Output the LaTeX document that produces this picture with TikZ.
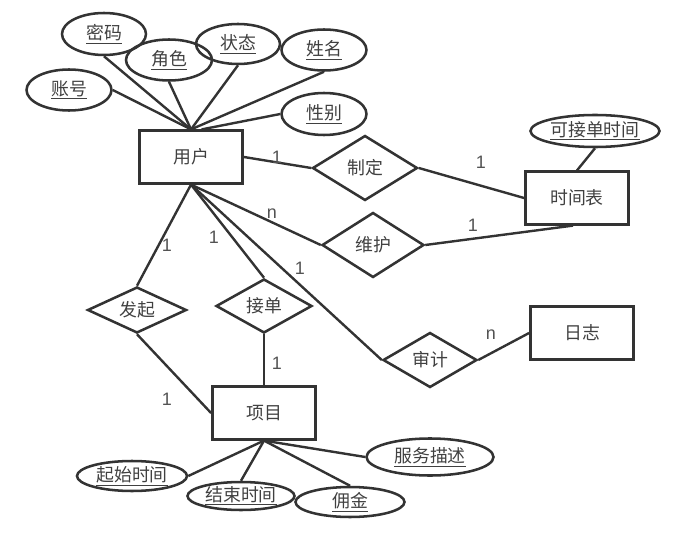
\documentclass[tikz,border=0pt]{standalone}
\usepackage{fontspec}
\setmainfont{Noto Sans CJK SC}
\newfontfamily\labelfont{Liberation Sans}
\usetikzlibrary{shapes.geometric}
\definecolor{ink}{HTML}{333333}
\definecolor{txt}{HTML}{404040}
\begin{document}
\begin{tikzpicture}[x=0.75pt,y=-0.75pt,
  every node/.style={font=\fontsize{13.4}{16}\selectfont, text=txt, inner sep=0pt},
  entity/.style={draw=ink, line width=1.9pt, rectangle, minimum width=77.5pt, minimum height=39.5pt},
  rel/.style={draw=ink, line width=1.9pt, diamond, aspect=1.6},
  attr/.style={draw=ink, line width=1.9pt, ellipse},
  conn/.style={draw=ink, line width=1.8pt},
  card/.style={font=\labelfont\fontsize{13.5}{15}\selectfont, text=txt!90}
]
\useasboundingbox (0,0) rectangle (700,560);
% entities
\node[entity] (u) at (191,157) {用户};
\node[entity] (t) at (577,198) {时间表};
\node[entity] (lg) at (582,333) {日志};
\node[entity] (p) at (264,413) {项目};
% relationships
\node[rel, minimum width=78.75pt, minimum height=48.75pt] (r1) at (365,168) {制定};
\node[rel, minimum width=76.5pt, minimum height=48.75pt] (r2) at (373,245) {维护};
\node[rel, minimum width=74.25pt, minimum height=34.5pt] (r3) at (137,310) {发起};
\node[rel, minimum width=72pt, minimum height=40.5pt] (r4) at (264,306) {接单};
\node[rel, minimum width=70.5pt, minimum height=41.25pt] (r5) at (430,360) {审计};
% attributes of user
\node[attr, minimum width=63pt, minimum height=31.5pt] (a1) at (104,34) {\underline{密码}};
\node[attr, minimum width=64.5pt, minimum height=30.75pt] (a2) at (169,60) {\underline{角色}};
\node[attr, minimum width=63pt, minimum height=30pt] (a3) at (238,44) {\underline{状态}};
\node[attr, minimum width=63.75pt, minimum height=30.75pt] (a4) at (324,50) {\underline{姓名}};
\node[attr, minimum width=63.75pt, minimum height=30.75pt] (a5) at (69,90) {\underline{账号}};
\node[attr, minimum width=63.75pt, minimum height=31.5pt] (a6) at (324,114) {\underline{性别}};
\node[attr, minimum width=96.75pt, minimum height=24pt] (a7) at (595,131) {\underline{可接单时间}};
% attributes of project
\node[attr, minimum width=82.5pt, minimum height=22.5pt] (b1) at (132,476) {\underline{起始时间}};
\node[attr, minimum width=80.25pt, minimum height=21pt] (b2) at (241,496) {\underline{结束时间}};
\node[attr, minimum width=81.75pt, minimum height=22.5pt] (b3) at (350,502) {\underline{佣金}};
\node[attr, minimum width=95.25pt, minimum height=27.75pt] (b4) at (430,457) {\underline{服务描述}};
% attribute connectors
\draw[conn] (a1.south) -- (u.north);
\draw[conn] (a5.east) -- (u.north);
\draw[conn] (a2.south) -- (u.north);
\draw[conn] (a3.south) -- (u.north);
\draw[conn] (a4.south) -- (u.north);
\draw[conn] (a6.west) -- ([xshift=8]u.north);
\draw[conn] (t.north) -- (a7.south);
\draw[conn] (b1.east) -- (p.south);
\draw[conn] (b2.north) -- (p.south);
\draw[conn] (b3.north) -- (p.south);
\draw[conn] (b4.west) -- (p.south);
% relationship connectors
\draw[conn] (u.east) -- (r1.west);
\draw[conn] (r1.east) -- (t.west);
\draw[conn] (u.south) -- (r2.west);
\draw[conn] (r2.east) -- ([xshift=-3]t.south);
\draw[conn] (u.south) -- (r3.north);
\draw[conn] (u.south) -- (r4.north);
\draw[conn] (u.south) -- (r5.west);
\draw[conn] (r5.east) -- (lg.west);
\draw[conn] (r3.south) -- (p.west);
\draw[conn] (r4.south) -- (p.north);
% cardinalities
\node[card] (c1) at (277,157) {1};
\node[card] (c2) at (481,162) {1};
\node[card] (c3) at (272,214) {n};
\node[card] (c4) at (473,225) {1};
\node[card] (c5) at (167,245) {1};
\node[card] (c6) at (214,237) {1};
\node[card] (c7) at (300,268) {1};
\node[card] (c8) at (491,335) {n};
\node[card] (c9) at (167,399) {1};
\node[card] (c10) at (277,363) {1};
\end{tikzpicture}
\end{document}
